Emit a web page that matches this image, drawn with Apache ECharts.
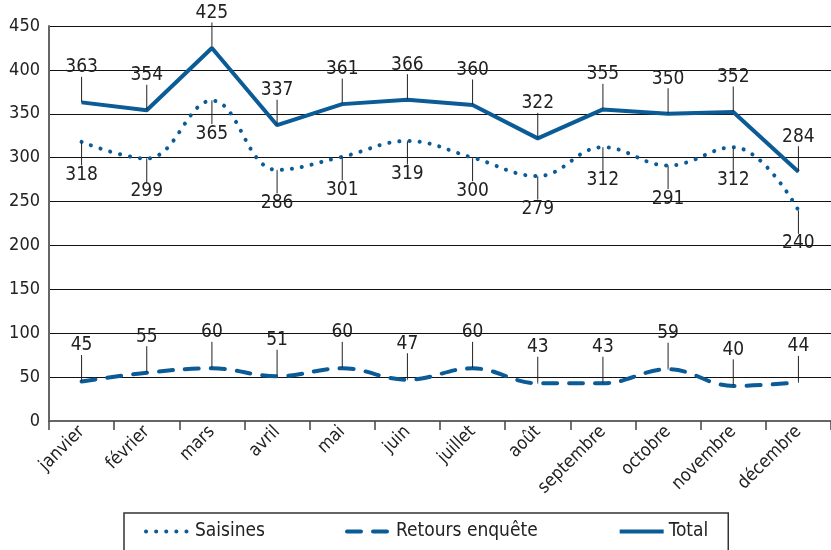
<!DOCTYPE html>
<html>
<head>
<meta charset="utf-8">
<script src="https://cdn.jsdelivr.net/npm/echarts@6/dist/echarts.min.js"></script>
<style>
  html, body { margin: 0; padding: 0; background: #fff; }
</style>
</head>
<body>
<div id="myChart" style="width:831px;height:550px;"></div>
<script>
// données
var mois = ["janvier", "février", "mars", "avril", "mai", "juin", "juillet", "août", "septembre", "octobre", "novembre", "décembre"];
var saisines = [318, 299, 365, 286, 301, 319, 300, 279, 312, 291, 312, 240];
var retours = [45, 55, 60, 51, 60, 47, 60, 43, 43, 59, 40, 44];
var total = [363, 354, 425, 337, 361, 366, 360, 322, 355, 350, 352, 284];
var yTicks = [0, 50, 100, 150, 200, 250, 300, 350, 400, 450];

var bleu = "#0b5b97";
var police = "'Liberation Sans Narrow', 'DejaVu Sans Condensed', sans-serif";

function etiquette() {
    return { show: true, position: "inside", color: "#222", fontSize: 19, fontFamily: police };
}
function ligneGuide() {
    return { show: true, lineStyle: { color: "#222", width: 1 } };
}

var chart = echarts.init(document.getElementById("myChart"));
chart.setOption({
    animation: false,
    grid: { left: 49, top: 26, width: 789, bottom: 129 },
    legend: {
        left: 124,
        top: 513,
        width: 651,
        padding: [9, 20, 30, 20],
        borderColor: "#333",
        borderWidth: 1.5,
        itemWidth: 44,
        itemHeight: 12,
        itemGap: 80,
        itemStyle: { opacity: 0 },
        lineStyle: { width: 4 },
        textStyle: { color: "#222", fontSize: 19, fontFamily: police },
        data: ["Saisines", "Retours enquête", "Total"]
    },
    xAxis: {
        type: "category",
        data: mois,
        boundaryGap: true,
        axisLine: { lineStyle: { color: "#666", width: 2 } },
        axisTick: { show: true, length: 9, lineStyle: { color: "#444", width: 1.5 } },
        axisLabel: { rotate: 45, color: "#222", fontSize: 18, fontFamily: police, margin: 8 },
        splitLine: { show: false }
    },
    yAxis: {
        type: "value",
        min: yTicks[0],
        max: yTicks[yTicks.length - 1],
        interval: 50,
        axisLine: { show: true, lineStyle: { color: "#666", width: 2 } },
        axisTick: { show: false },
        axisLabel: { color: "#222", fontSize: 18, fontFamily: police, margin: 9 },
        splitLine: { lineStyle: { color: "#111", width: 1 } }
    },
    series: [
        {
            name: "Saisines",
            type: "line",
            data: saisines,
            smooth: 0.4,
            symbol: "circle",
            symbolSize: 1,
            showSymbol: true,
            lineStyle: { color: bleu, width: 4, type: [0.1, 10], cap: "round" },
            itemStyle: { color: bleu },
            label: etiquette(),
            labelLine: ligneGuide(),
            labelLayout: { dy: 33 }
        },
        {
            name: "Retours enquête",
            type: "line",
            data: retours,
            smooth: 0.4,
            symbol: "circle",
            symbolSize: 1,
            showSymbol: true,
            lineStyle: { color: bleu, width: 4, type: [14, 12], cap: "round" },
            itemStyle: { color: bleu },
            label: etiquette(),
            labelLine: ligneGuide(),
            labelLayout: { dy: -36 }
        },
        {
            name: "Total",
            type: "line",
            data: total,
            symbol: "circle",
            symbolSize: 1,
            showSymbol: true,
            lineStyle: { color: bleu, width: 4 },
            itemStyle: { color: bleu },
            label: etiquette(),
            labelLine: ligneGuide(),
            labelLayout: { dy: -35 }
        }
    ]
});
</script>
</body>
</html>
